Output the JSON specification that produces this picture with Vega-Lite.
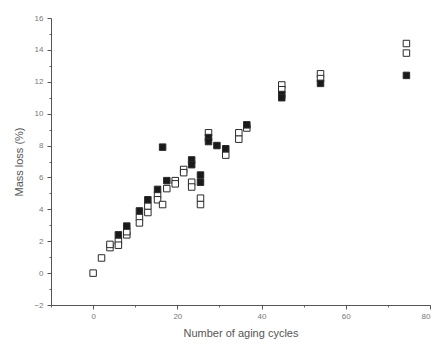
{
  "$schema": "https://vega.github.io/schema/vega-lite/v6.json",
  "autosize": {"type": "none"},
  "width": 379,
  "height": 287,
  "padding": {"left": 51, "top": 18, "right": 12, "bottom": 41},
  "background": "white",
  "config": {"view": {"stroke": null}, "font": "Liberation Sans"},
  "data": {"values": [
    {"x": 0, "y": 0, "s": "open"},
    {"x": 2, "y": 0.95, "s": "open"},
    {"x": 4, "y": 1.6, "s": "open"},
    {"x": 4, "y": 1.8, "s": "open"},
    {"x": 6, "y": 2.0, "s": "open"},
    {"x": 6, "y": 1.75, "s": "open"},
    {"x": 8, "y": 2.4, "s": "open"},
    {"x": 8, "y": 2.6, "s": "open"},
    {"x": 11, "y": 3.5, "s": "open"},
    {"x": 11, "y": 3.15, "s": "open"},
    {"x": 13, "y": 4.2, "s": "open"},
    {"x": 13, "y": 3.8, "s": "open"},
    {"x": 15.3, "y": 4.9, "s": "open"},
    {"x": 15.3, "y": 4.6, "s": "open"},
    {"x": 16.5, "y": 4.3, "s": "open"},
    {"x": 17.5, "y": 5.3, "s": "open"},
    {"x": 19.5, "y": 5.8, "s": "open"},
    {"x": 19.5, "y": 5.6, "s": "open"},
    {"x": 21.5, "y": 6.5, "s": "open"},
    {"x": 21.5, "y": 6.3, "s": "open"},
    {"x": 23.4, "y": 5.7, "s": "open"},
    {"x": 23.4, "y": 5.4, "s": "open"},
    {"x": 25.5, "y": 4.7, "s": "open"},
    {"x": 25.5, "y": 4.3, "s": "open"},
    {"x": 27.4, "y": 8.8, "s": "open"},
    {"x": 31.5, "y": 7.4, "s": "open"},
    {"x": 34.6, "y": 8.8, "s": "open"},
    {"x": 34.6, "y": 8.4, "s": "open"},
    {"x": 36.5, "y": 9.1, "s": "open"},
    {"x": 44.8, "y": 11.8, "s": "open"},
    {"x": 44.8, "y": 11.5, "s": "open"},
    {"x": 54, "y": 12.5, "s": "open"},
    {"x": 54, "y": 12.2, "s": "open"},
    {"x": 74.4, "y": 14.4, "s": "open"},
    {"x": 74.4, "y": 13.8, "s": "open"},
    {"x": 6, "y": 2.4, "s": "filled"},
    {"x": 8, "y": 2.95, "s": "filled"},
    {"x": 11, "y": 3.9, "s": "filled"},
    {"x": 13, "y": 4.6, "s": "filled"},
    {"x": 15.3, "y": 5.25, "s": "filled"},
    {"x": 16.5, "y": 7.9, "s": "filled"},
    {"x": 17.5, "y": 5.8, "s": "filled"},
    {"x": 23.4, "y": 7.1, "s": "filled"},
    {"x": 23.4, "y": 6.8, "s": "filled"},
    {"x": 25.5, "y": 6.15, "s": "filled"},
    {"x": 25.5, "y": 5.7, "s": "filled"},
    {"x": 27.4, "y": 8.5, "s": "filled"},
    {"x": 27.4, "y": 8.25, "s": "filled"},
    {"x": 29.4, "y": 8.0, "s": "filled"},
    {"x": 31.5, "y": 7.8, "s": "filled"},
    {"x": 36.5, "y": 9.3, "s": "filled"},
    {"x": 44.8, "y": 11.2, "s": "filled"},
    {"x": 44.8, "y": 11.0, "s": "filled"},
    {"x": 54, "y": 11.9, "s": "filled"},
    {"x": 74.4, "y": 12.4, "s": "filled"}
  ]},
  "layer": [
    {
      "mark": {"type": "point", "opacity": 0},
      "encoding": {
        "x": {"field": "x", "type": "quantitative", "scale": {"domain": [-10, 80], "nice": false, "zero": false},
          "axis": {"orient": "bottom", "values": [-10, 10, 30, 50, 70], "labels": false, "title": null, "tickSize": 2, "tickColor": "#666", "domain": false, "grid": false}},
        "y": {"field": "y", "type": "quantitative", "scale": {"domain": [-2, 16], "nice": false, "zero": false},
          "axis": {"orient": "left", "values": [-1, 1, 3, 5, 7, 9, 11, 13, 15], "labels": false, "title": null, "tickSize": 2, "tickColor": "#666", "domain": false, "grid": false}}
      }
    },
    {
      "mark": {"type": "point", "shape": "square", "size": 42, "filled": true, "stroke": "#2a2a2a", "strokeWidth": 1, "opacity": 1},
      "encoding": {
        "x": {"field": "x", "type": "quantitative", "scale": {"domain": [-10, 80], "nice": false, "zero": false},
          "axis": {"orient": "bottom", "values": [0, 20, 40, 60, 80], "title": "Number of aging cycles", "tickSize": 4, "tickColor": "#555", "domainColor": "#555", "labelColor": "#777", "labelFontSize": 8, "labelPadding": 3, "titleFontSize": 11, "titleFontWeight": "normal", "titleColor": "#555", "titlePadding": 7, "grid": false}},
        "y": {"field": "y", "type": "quantitative", "scale": {"domain": [-2, 16], "nice": false, "zero": false},
          "axis": {"orient": "left", "values": [-2, 0, 2, 4, 6, 8, 10, 12, 14, 16], "title": "Mass loss (%)", "tickSize": 4, "tickColor": "#555", "domainColor": "#555", "labelColor": "#777", "labelFontSize": 8, "labelPadding": 4, "titleFontSize": 11, "titleFontWeight": "normal", "titleColor": "#555", "titlePadding": 9, "grid": false}},
        "fill": {"field": "s", "type": "nominal", "scale": {"domain": ["open", "filled"], "range": ["#ffffff", "#1a1a1a"]}, "legend": null}
      }
    }
  ],
  "resolve": {"axis": {"x": "independent", "y": "independent"}}
}
